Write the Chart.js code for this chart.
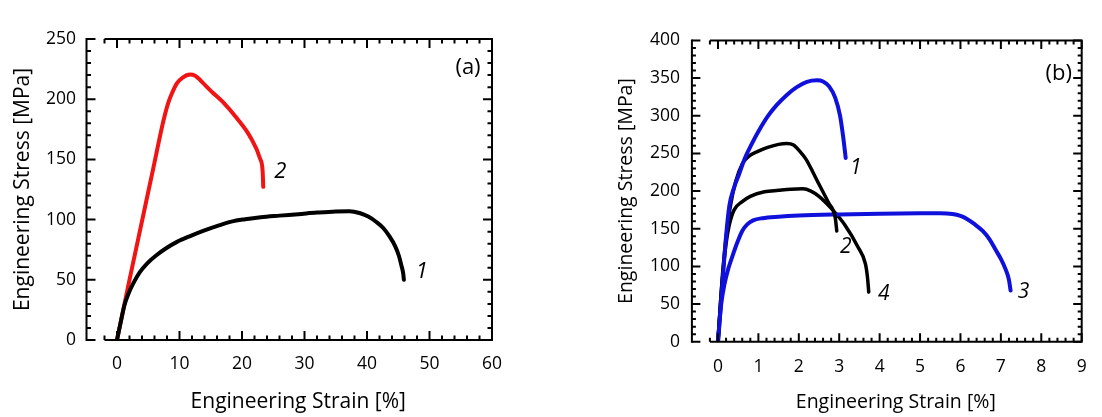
<!DOCTYPE html>
<html><head><meta charset="utf-8">
<script src="https://cdn.jsdelivr.net/npm/chart.js@4/dist/chart.umd.min.js"></script>
<style>
html,body{margin:0;padding:0;background:#fff;overflow:hidden;width:1102px;height:417px}
canvas{position:absolute;top:0}
#ca{left:0}
#cb{left:551px}
</style></head><body>
<canvas id="ca" width="551" height="417"></canvas>
<canvas id="cb" width="551" height="417"></canvas>
<script>
// ---------- Panel (a) data ----------
const strainA1 = [0,0.6,1.2,1.8,2.6,3.6,4.8,6.2,7.8,9.6,11.8,14,16.2,18.3,20.5,23,26,29,32,35,37.2,38.8,40.2,41.5,42.6,43.6,44.5,45.1,45.5,45.8,45.9];
const stressA1 = [0,15,29,38,47,56,63.5,70,76,81.5,86.5,91,95,98.3,100.3,102,103.3,104.5,105.8,106.8,107,105.5,102.5,98,93,86,78,70,62,55,50];
const strainA2 = [0,2.08,4.21,5.81,7.41,8.2,8.8,9.55,10.5,11.7,12.5,13.3,14.2,15.2,17.0,19.15,21.3,22.9,23.3,23.4];
const stressA2 = [0,52,103.8,142.8,181.7,197,205,213,218,220.5,219.5,216,211,206,197.3,184.3,168.8,150.5,140.2,127.2];
const xMajorA = [0,10,20,30,40,50,60];
const yMajorA = [0,50,100,150,200,250];

// ---------- Panel (b) data ----------
const strainB1 = [0,0.1,0.2,0.28,0.4,0.52,0.66,0.83,1.0,1.23,1.45,1.71,1.95,2.2,2.45,2.6,2.75,2.9,3.02,3.1,3.16];
const stressB1 = [0,70,140,180,205,222,243,262,279,299,314,328,338,345,347,345.5,339,324,300,271,244];
const strainB2 = [0,0.06,0.12,0.2,0.3,0.44,0.6,0.76,1.0,1.23,1.5,1.7,1.87,2.02,2.18,2.34,2.5,2.74,2.9,2.94];
const stressB2 = [0,50,95,138,178,213,236,246,253,258,262,263,261,253,242,226,209,184,165,147];
const strainB3 = [0,0.08,0.16,0.25,0.36,0.48,0.6,0.73,0.87,1.1,1.5,2,3,4,5,5.5,5.8,6.0,6.16,6.35,6.55,6.72,6.87,7.0,7.11,7.2,7.24];
const stressB3 = [0,50,76,96,114,132,147,156,161,164,166,167.5,169,170,170.5,170.5,169.5,167,163,156,147,136,122,110,97,82,68];
const strainB4 = [0,0.06,0.12,0.2,0.28,0.4,0.6,0.8,1.15,1.5,1.8,2.1,2.3,2.5,2.82,3.14,3.46,3.65,3.7,3.73];
const stressB4 = [0,50,90,130,155,175,186,193,199,201,202.5,203,200,193,176,155,126,103,85,66];
const xMajorB = [0,1,2,3,4,5,6,7,8,9];
const yMajorB = [0,50,100,150,200,250,300,350,400];

const seriesLabelsA = ['1','2'];
const seriesLabelsB = ['1','2','3','4'];

function pts(xs, ys){ return xs.map((v,i)=>({x:v,y:ys[i]})); }
function isMajor(v, arr){ return arr.some(m=>Math.abs(m-v)<1e-6); }

const FONT = "'Open Sans', 'DejaVu Sans', sans-serif";

const framePlugin = {
  id:'frame',
  afterDraw(chart, args, o){
    const {ctx, chartArea:a, scales:{x,y}} = chart;
    ctx.save();
    ctx.strokeStyle='#000';
    ctx.lineWidth=o.lw;
    const lx = a.left - o.gap;
    const h = o.lw/2;
    ctx.beginPath();
    ctx.moveTo(lx, a.top-h); ctx.lineTo(lx, a.bottom+h);
    ctx.moveTo(a.left, a.top); ctx.lineTo(a.right+h, a.top);
    ctx.moveTo(a.left, a.bottom); ctx.lineTo(a.right+h, a.bottom);
    ctx.moveTo(a.right, a.top-h); ctx.lineTo(a.right, a.bottom+h);
    ctx.stroke();
    ctx.lineWidth=o.tw;
    ctx.beginPath();
    x.ticks.forEach(t=>{
      const p = x.getPixelForValue(t.value);
      const L = isMajor(t.value, o.xMajor) ? o.major : o.minor;
      ctx.moveTo(p, a.bottom); ctx.lineTo(p, a.bottom-L);
      ctx.moveTo(p, a.top); ctx.lineTo(p, a.top+L);
    });
    y.ticks.forEach(t=>{
      const p = y.getPixelForValue(t.value);
      const L = isMajor(t.value, o.yMajor) ? o.major : o.minor;
      ctx.moveTo(lx, p); ctx.lineTo(lx+L, p);
      ctx.moveTo(a.right, p); ctx.lineTo(a.right-L, p);
    });
    ctx.stroke();
    // end-of-curve labels
    ctx.fillStyle='#000';
    ctx.textAlign='center'; ctx.textBaseline='middle';
    ctx.font = 'italic ' + o.labelSize + 'px ' + FONT;
    chart.data.datasets.forEach(ds=>{
      const last = ds.data[ds.data.length-1];
      const px = x.getPixelForValue(last.x) + ds.labelOffset[0];
      const py = y.getPixelForValue(last.y) + ds.labelOffset[1];
      ctx.fillText(ds.label, px, py);
    });
    ctx.font = o.panelSize + 'px ' + FONT;
    ctx.fillText(o.panel, a.right + o.panelOffset[0], a.top + o.panelOffset[1]);
    ctx.restore();
  }
};

function makeChart(id, cfg){
  return new Chart(document.getElementById(id), {
    type:'scatter',
    data:{datasets: cfg.datasets},
    plugins:[framePlugin],
    options:{
      responsive:false,
      animation:false,
      events:[],
      layout:{padding:{left:0, top:cfg.top, right:cfg.right, bottom:0}},
      elements:{point:{radius:0}, line:{cubicInterpolationMode:'monotone', borderCapStyle:'round', borderJoinStyle:'round'}},
      plugins:{
        legend:{display:false}, tooltip:{enabled:false},
        frame:{lw:2, tw:2, gap:cfg.gap, major:cfg.major, minor:cfg.minor, xMajor:cfg.xMajor, yMajor:cfg.yMajor,
               labelSize:cfg.labelSize, panel:cfg.panel, panelSize:cfg.panelSize, panelOffset:cfg.panelOffset}
      },
      scales:{
        x:{
          type:'linear', min:cfg.xMin, max:cfg.xMax,
          grid:{display:false, drawTicks:false}, border:{display:false},
          ticks:{stepSize:cfg.xStep, autoSkip:false, maxRotation:0, padding:cfg.xPad, color:'#000',
                 font:{family:FONT, size:cfg.tickSize},
                 callback:(v)=> isMajor(v, cfg.xMajor) ? String(Math.round(v)) : ''},
          title:{display:true, text:'Engineering Strain [%]', color:'#000',
                 font:{family:FONT, size:cfg.titleSize}, padding:{top:0, bottom:cfg.xTitlePad}},
          afterFit:(s)=>{ s.height = cfg.xH; }
        },
        y:{
          type:'linear', min:cfg.yMin, max:cfg.yMax,
          grid:{display:false, drawTicks:false}, border:{display:false},
          ticks:{stepSize:cfg.yStep, autoSkip:false, padding:cfg.yPad, color:'#000',
                 font:{family:FONT, size:cfg.tickSize},
                 callback:(v)=> isMajor(v, cfg.yMajor) ? String(Math.round(v)) : ''},
          title:{display:true, text:'Engineering Stress [MPa]', color:'#000',
                 font:{family:FONT, size:cfg.titleSize}, padding:{top:cfg.yTitlePad, bottom:0}},
          afterFit:(s)=>{ s.width = cfg.yW; }
        }
      }
    }
  });
}

makeChart('ca', {
  datasets:[
    {label:seriesLabelsA[0], data:pts(strainA1, stressA1), showLine:true, borderColor:'#000000', borderWidth:4, labelOffset:[18,-8]},
    {label:seriesLabelsA[1], data:pts(strainA2, stressA2), showLine:true, borderColor:'#f01414', borderWidth:4, labelOffset:[17,-15]}
  ],
  top:19, right:59, gap:18, major:9, minor:4.5, xMajor:xMajorA, yMajor:yMajorA,
  labelSize:22, panel:'(a)', panelSize:22, panelOffset:[-24,29],
  xMin:-2, xMax:60, xStep:2, xPad:13.8, tickSize:17.5, titleSize:21, xTitlePad:2.7, xH:77,
  yMin:0, yMax:250, yStep:10, yPad:28.5, yTitlePad:10.4, yW:104.5
});

makeChart('cb', {
  datasets:[
    {label:seriesLabelsB[0], data:pts(strainB1, stressB1), showLine:true, borderColor:'#1010dc', borderWidth:4, labelOffset:[10,10]},
    {label:seriesLabelsB[1], data:pts(strainB2, stressB2), showLine:true, borderColor:'#000000', borderWidth:3.5, labelOffset:[9,16]},
    {label:seriesLabelsB[2], data:pts(strainB3, stressB3), showLine:true, borderColor:'#1010dc', borderWidth:4, labelOffset:[13,2]},
    {label:seriesLabelsB[3], data:pts(strainB4, stressB4), showLine:true, borderColor:'#000000', borderWidth:3.5, labelOffset:[15,2]}
  ],
  top:19, right:6, gap:18, major:8.5, minor:4, xMajor:xMajorB, yMajor:yMajorB,
  labelSize:21, panel:'(b)', panelSize:22, panelOffset:[-23,33],
  xMin:-0.2, xMax:9, xStep:0.2, xPad:15.3, tickSize:17.5, titleSize:19.5, xTitlePad:3.3, xH:75.3,
  yMin:0, yMax:400, yStep:10, yPad:29.9, yTitlePad:63.3, yW:158.9
});
</script>
</body></html>
